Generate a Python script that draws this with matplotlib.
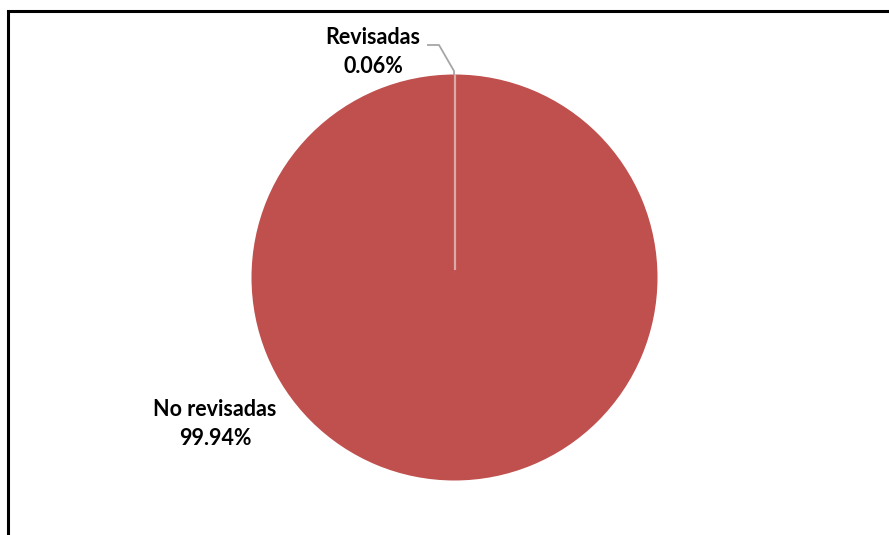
import matplotlib
matplotlib.use("Agg")
import matplotlib.pyplot as plt
from matplotlib.patches import Rectangle

# data
labels = ["Revisadas", "No revisadas"]
shares = [0.06, 99.94]
colours = ["#C0504D", "#C0504D"]

W, H = 889, 535
fig = plt.figure(figsize=(W / 100, H / 100), dpi=100)
ax = fig.add_axes([0, 0, 1, 1])

# chart frame (only left and top edges visible)
ax.add_patch(Rectangle((7.5, -20), 1000, H - 11 + 20, fill=False,
                       edgecolor="black", lw=2.2, clip_on=True))

cx, cy, r = 454.5, H - 277.5, 203
wedges, _ = ax.pie(shares, colors=colours, startangle=90, counterclock=False,
                   center=(cx, cy), radius=r, frame=True,
                   wedgeprops=dict(edgecolor="none", linewidth=0))
# the tiny slice shows as a light seam from the centre to the top
ax.plot([cx, cx], [cy + 8, cy + r], color="#D9AAA8", lw=1.6,
        solid_capstyle="butt")
ax.set_xlim(0, W)
ax.set_ylim(0, H)
ax.set_aspect("equal")
ax.axis("off")

font = dict(family="Lato", fontweight="bold", fontsize=15.5, color="black",
            ha="center", va="center", linespacing=1.42)

ax.text(373, H - 52, f"{labels[0]}\n{shares[0]:.2f}%", **font)
ax.text(215, H - 424, f"{labels[1]}\n{shares[1]:.2f}%", **font)

# leader line for the small slice
ax.plot([427, 439, 454, 454], [H - 45, H - 45, H - 71, H - 75],
        color="#A6A6A6", lw=1.3, solid_capstyle="butt")

fig.savefig("out.png", dpi=100, facecolor="white")
